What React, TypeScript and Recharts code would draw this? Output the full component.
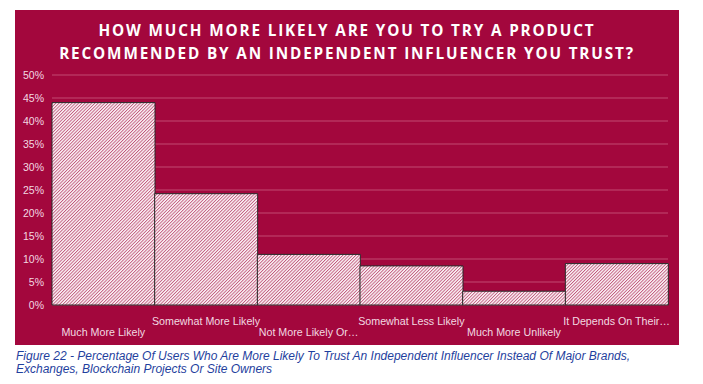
import React from 'react';
import { BarChart, Bar, XAxis, YAxis, CartesianGrid } from 'recharts';

const categories = [
  'Much More Likely',
  'Somewhat More Likely',
  'Not More Likely Or…',
  'Somewhat Less Likely',
  'Much More Unlikely',
  'It Depends On Their…',
];
const values = [44.0, 24.2, 11.0, 8.5, 3.0, 9.0];
const yTicks = [0, 5, 10, 15, 20, 25, 30, 35, 40, 45, 50];
const titleLines = [
  'HOW MUCH MORE LIKELY ARE YOU TO TRY A PRODUCT',
  'RECOMMENDED BY AN INDEPENDENT INFLUENCER YOU TRUST?',
];
const captionLines = [
  'Figure 22 - Percentage Of Users Who Are More Likely To Trust An Independent Influencer Instead Of Major Brands,',
  'Exchanges, Blockchain Projects Or Site Owners',
];

const data = categories.map((c, i) => ({ name: c, value: values[i] }));

const BG = '#A3073D';
const LABEL = '#F2D9E1';

const XTick = (props: any) => {
  const { x, y, payload, index } = props;
  const odd = index % 2 === 1;
  return (
    <text
      x={x}
      y={y + (odd ? 12 : 23)}
      textAnchor="middle"
      fill={LABEL}
      fontSize={10.7}
      fontFamily="'Liberation Sans', Arial, sans-serif"
    >
      {payload.value}
    </text>
  );
};

export default function App() {
  return (
    <div style={{ position: 'absolute', left: 0, top: 0, width: 703, height: 384, background: '#fff' }}>
      <div style={{ position: 'absolute', left: 15, top: 10, width: 664, height: 335, background: BG }}>
        <div
          style={{
            position: 'absolute',
            left: 0,
            top: 9,
            width: 664,
            textAlign: 'center',
            color: '#fff',
            fontFamily: "'Open Sans', sans-serif",
            fontWeight: 700,
            fontSize: 15.3,
            letterSpacing: 1.85,
            lineHeight: '23px',
          }}
        >
          {titleLines.map((t, i) => (
            <div key={i}>{t}</div>
          ))}
        </div>
        <BarChart
          width={664}
          height={335}
          data={data}
          margin={{ top: 65, right: 11, left: 0, bottom: 0 }}
          barCategoryGap={0}
          style={{ position: 'absolute', left: 0, top: 0 }}
        >
          <defs>
            <pattern id="hatch" patternUnits="userSpaceOnUse" width="2.3" height="2.3" patternTransform="rotate(45)">
              <rect x="0" y="0" width="2.3" height="2.3" fill="#FCF5F8" />
              <line x1="0.5" y1="0" x2="0.5" y2="2.3" stroke="#B8436B" strokeWidth="0.8" />
            </pattern>
          </defs>
          <CartesianGrid vertical={false} stroke="#C24A73" strokeWidth={1} />
          <XAxis
            dataKey="name"
            axisLine={false}
            tickLine={false}
            height={40}
            interval={0}
            tick={<XTick />}
          />
          <YAxis
            domain={[0, 50]}
            ticks={yTicks}
            width={37}
            axisLine={false}
            tickLine={false}
            tickFormatter={(v: number) => `${v}%`}
            tick={{ fill: LABEL, fontSize: 10.5, fontFamily: "'Liberation Sans', Arial, sans-serif" }}
            interval={0}
          />
          <Bar dataKey="value" fill="url(#hatch)" stroke="#2B2B2B" strokeWidth={1} isAnimationActive={false} />
        </BarChart>
      </div>
      <div
        style={{
          position: 'absolute',
          left: 16,
          top: 350,
          color: '#1F3F9E',
          fontFamily: "'Liberation Sans', Arial, sans-serif",
          fontStyle: 'italic',
          fontSize: 12,
          lineHeight: '13px',
          whiteSpace: 'nowrap',
        }}
      >
        {captionLines.map((t, i) => (
          <div key={i}>{t}</div>
        ))}
      </div>
    </div>
  );
}
